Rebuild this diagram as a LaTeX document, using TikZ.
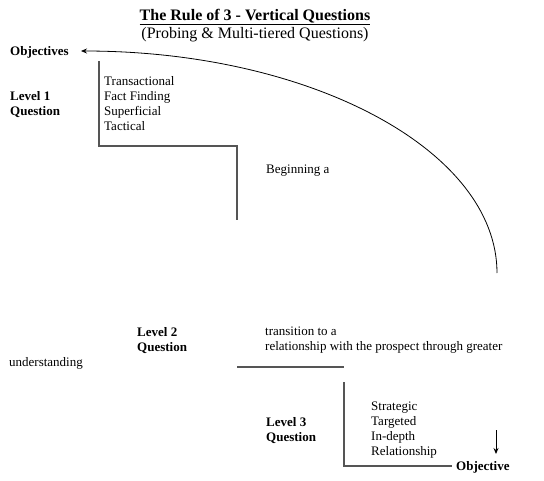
\documentclass[tikz,border=0pt]{standalone}
\usepackage{fontspec}
\setmainfont{Liberation Serif}
\usepackage{tikz}
\usetikzlibrary{arrows.meta,positioning,calc}
\definecolor{grisTrait}{RGB}{85,85,85}

\begin{document}
\begin{tikzpicture}[x=1pt,y=1pt,
  txt/.style={anchor=west,inner sep=0pt,align=left,font=\fontsize{13}{15}\selectfont},
  lvl/.style={txt,font=\fontsize{13}{15}\selectfont\bfseries},
  trait/.style={draw=grisTrait,line width=1.1pt},
  fleche/.style={-{Stealth[length=6pt,width=5pt]},black,line width=0.9pt}]

  \useasboundingbox (0,0) rectangle (544,-480);

  % Titre
  \node[inner sep=0pt,font=\fontsize{16}{18}\selectfont\bfseries] (titre) at (255,-17)
    {\underline{The Rule of 3 - Vertical Questions}};
  \node[inner sep=0pt,font=\fontsize{16}{18}\selectfont] (soustitre) at (255,-35)
    {(Probing \& Multi-tiered Questions)};

  % Niveau 1
  \node[lvl] (obj)  at (10,-52)  {Objectives};
  \node[lvl] (lev1) at (10,-104.5) {Level 1\\Question};
  \node[txt] (lst1) at (104,-103.5) {Transactional\\Fact Finding\\Superficial\\Tactical};
  \node[txt] (beg)  at (266,-171) {Beginning a};

  % Niveau 2
  \node[lvl] (lev2) at (137,-340.5) {Level 2\\Question};
  \node[txt] (tra)  at (265,-340.5) {transition to a\\relationship with the prospect through greater};
  \node[txt] (und)  at (9,-363)   {understanding};

  % Niveau 3
  \node[lvl] (lev3) at (266,-430.5) {Level 3\\Question};
  \node[txt] (lst3) at (371,-430.5) {Strategic\\Targeted\\In-depth\\Relationship};
  \node[lvl] (objf) at (456,-467) {Objective};

  % Marches
  \draw[trait] (99,-61) |- (237,-146) -- (237,-220);
  \draw[trait] (237,-367) -- (344,-367);
  \draw[trait] (344,-382) |- (452,-466);

  % Fleches
  \coordinate (arcdeb) at (497,-273);
  \coordinate (arcfin) at (81,-51);
  \draw[fleche,line width=0.8pt] (arcdeb) arc[start angle=0,end angle=90,x radius=416,y radius=222];
  \coordinate (bas) at (496,-430);
  \draw[fleche] (bas) -- (bas |- 0,-454);
\end{tikzpicture}
\end{document}
